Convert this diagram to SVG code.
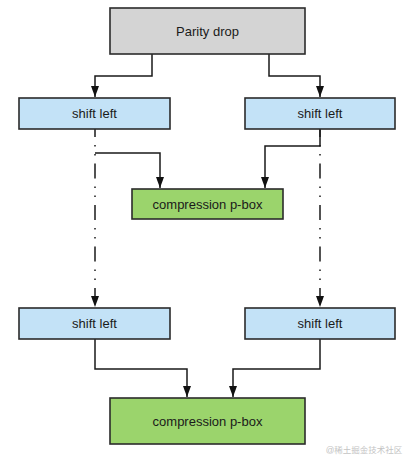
<svg xmlns="http://www.w3.org/2000/svg" width="404" height="460" viewBox="0 0 404 460">
<defs>
<marker id="arr" viewBox="0 0 11 8" refX="11" refY="4" markerWidth="11" markerHeight="8" markerUnits="userSpaceOnUse" orient="auto">
<path d="M0,0 L11,4 L0,8 z" fill="#111"/>
</marker>
<style>
.box{stroke:#2b2b2b;stroke-width:1.6}
.gray{fill:#d4d4d4}
.blue{fill:#c3e2f7}
.green{fill:#9bd46c}
.lbl{font-family:"Liberation Sans",Arial,sans-serif;font-size:13px;fill:#1a1a1a;text-anchor:middle}
.c{fill:none;stroke:#1a1a1a;stroke-width:1.5}
.dd{stroke-dasharray:15 8 1.5 7.5 1.5 8;stroke-dashoffset:7}
</style>
</defs>
<g id="connectors">
<path class="c" d="M152,54 V76 H95 V97" marker-end="url(#arr)"/>
<path class="c" d="M269,54 V76 H320 V97" marker-end="url(#arr)"/>
<path class="c" d="M95,153 H160 V188" marker-end="url(#arr)"/>
<path class="c" d="M320,129 V146 H265 V188" marker-end="url(#arr)"/>
<path class="c dd" d="M95,129 V307" marker-end="url(#arr)"/>
<path class="c dd" d="M320,129 V307" marker-end="url(#arr)"/>
<path class="c" d="M95,339 V369 H187 V397" marker-end="url(#arr)"/>
<path class="c" d="M320,339 V369 H233 V397" marker-end="url(#arr)"/>
</g>
<g id="parity">
<rect class="box gray" x="110" y="8" width="195" height="46"/>
<text class="lbl" x="207.5" y="36">Parity drop</text>
</g>
<g id="shift1L">
<rect class="box blue" x="19" y="98" width="151" height="31"/>
<text class="lbl" x="94.5" y="118">shift left</text>
</g>
<g id="shift1R">
<rect class="box blue" x="245" y="98" width="150" height="31"/>
<text class="lbl" x="320" y="118">shift left</text>
</g>
<g id="pbox1">
<rect class="box green" x="132" y="189" width="151" height="30"/>
<text class="lbl" x="207.5" y="209">compression p-box</text>
</g>
<g id="shift2L">
<rect class="box blue" x="19" y="308" width="151" height="31"/>
<text class="lbl" x="94.5" y="328">shift left</text>
</g>
<g id="shift2R">
<rect class="box blue" x="245" y="308" width="150" height="31"/>
<text class="lbl" x="320" y="328">shift left</text>
</g>
<g id="pbox2">
<rect class="box green" x="110" y="398" width="195" height="46"/>
<text class="lbl" x="207.5" y="426">compression p-box</text>
</g>
<text x="364" y="453" font-family="'Liberation Sans','Noto Sans CJK SC',sans-serif" font-size="8.5" fill="#c4c4c4" text-anchor="middle">@稀土掘金技术社区</text>
</svg>
